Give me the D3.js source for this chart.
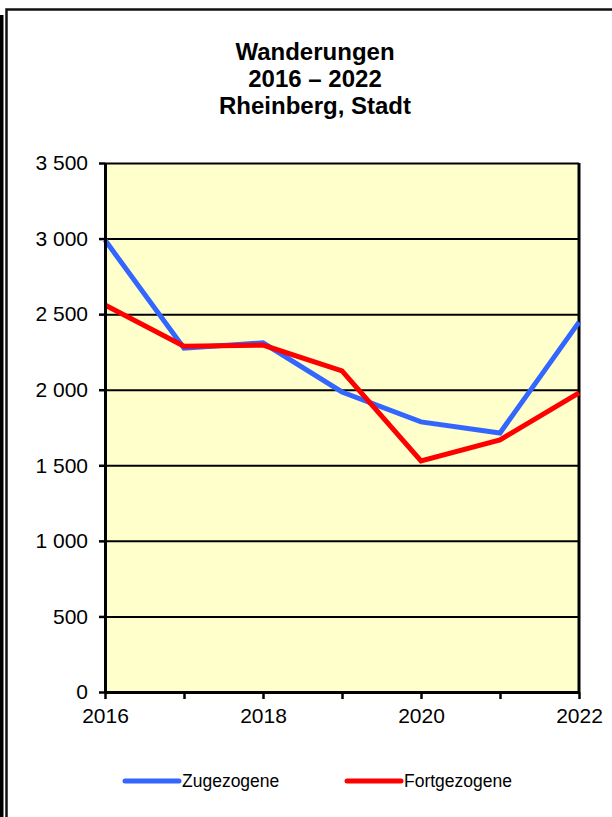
<!DOCTYPE html>
<html>
<head>
<meta charset="utf-8">
<script src="https://cdn.jsdelivr.net/npm/d3@7"></script>
<style>
	body { margin: 0; background: #ffffff; }
	svg { display: block; font-family: Arial, "Liberation Sans", sans-serif; }
	.grid line { stroke: #000000; stroke-width: 2; }
	.grid .domain { display: none; }
	.yaxis text, .xaxis text { font-size: 21px; fill: #000000; }
	.yaxis line, .xaxis line { stroke: #000000; stroke-width: 2.5; }
	.yaxis .domain, .xaxis .domain { stroke: #000000; stroke-width: 3; }
	.series { fill: none; stroke-width: 5; stroke-linejoin: miter; }
	.legend text { font-size: 17.5px; fill: #000000; }
</style>
</head>
<body>
<svg id="chart" width="612" height="817"></svg>
<script>

const years = [2016, 2017, 2018, 2019, 2020, 2021, 2022]

const zugezogene = [2990, 2275, 2310, 1985, 1787, 1714, 2447]

const fortgezogene = [2560, 2288, 2295, 2124, 1529, 1668, 1979]

const yTicks = [0, 500, 1000, 1500, 2000, 2500, 3000, 3500]

const xTickLabels = [2016, 2018, 2020, 2022]

const titleLines = ['Wanderungen', '2016 – 2022', 'Rheinberg, Stadt']

const seriesNames = ['Zugezogene', 'Fortgezogene']
const seriesColors = ['#3366ff', '#ff0000']

let svg = d3.select('#chart')

let width = 612
let height = 817

let plotLeft = 105, plotRight = 579, plotTop = 163, plotBottom = 692

let de = d3.formatLocale({ decimal: ',', thousands: ' ', grouping: [3], currency: ['', ' €'] })
let fmt = de.format(',d')

let xScale = d3.scaleLinear()
.domain(d3.extent(years))
.range([plotLeft, plotRight])

let yScale = d3.scaleLinear()
.domain([0, 3500])
.range([plotBottom, plotTop])

// outer frame
svg.append('rect')
.attr('x', 0)
.attr('y', 15)
.attr('width', 3.5)
.attr('height', height - 15)
.attr('fill', '#000000')

svg.append('path')
.attr('d', 'M6.5,' + height + 'V9.5H' + width)
.attr('fill', 'none')
.attr('stroke', '#111111')
.attr('stroke-width', 2.5)

// title
svg.append('g')
.selectAll('text')
.data(titleLines)
.join('text')
.attr('x', 315)
.attr('y', (d, i) => 60 + i * 27)
.attr('text-anchor', 'middle')
.style('font-size', '24px')
.style('font-weight', 'bold')
.text(d => d)

// plot background
svg.append('rect')
.attr('x', plotLeft)
.attr('y', plotTop)
.attr('width', plotRight - plotLeft)
.attr('height', plotBottom - plotTop)
.attr('fill', '#ffffcc')

// gridlines
svg.append('g')
.attr('class', 'grid')
.attr('transform', 'translate(' + plotLeft + ',0)')
.call(
	d3.axisLeft(yScale)
	.tickValues(yTicks)
	.tickSizeInner(-(plotRight - plotLeft))
	.tickSizeOuter(0)
	.tickFormat('')
	)

// right border
svg.append('line')
.attr('x1', plotRight)
.attr('x2', plotRight)
.attr('y1', plotTop)
.attr('y2', plotBottom)
.attr('stroke', '#000000')
.attr('stroke-width', 3)

let line = d3.line()
.x((d, i) => xScale(years[i]))
.y(d => yScale(d))

let g = svg.append('g')

;[zugezogene, fortgezogene].map((s, i) => {
	g.append('path')
	.attr('class', 'series')
	.attr('stroke', seriesColors[i])
	.attr('d', line(s))
})

// axes
svg.append('g')
.attr('class', 'yaxis')
.attr('transform', 'translate(' + plotLeft + ',0)')
.call(
	d3.axisLeft(yScale)
	.tickValues(yTicks)
	.tickSizeInner(6)
	.tickSizeOuter(0)
	.tickPadding(11)
	.tickFormat(fmt)
	)

svg.append('g')
.attr('class', 'xaxis')
.attr('transform', 'translate(0,' + plotBottom + ')')
.call(
	d3.axisBottom(xScale)
	.tickValues(years)
	.tickSizeInner(7)
	.tickSizeOuter(0)
	.tickPadding(9)
	.tickFormat(d => xTickLabels.includes(d) ? d : '')
	)

// legend
let legendX = [125, 347]

let legend = svg.append('g')
.attr('class', 'legend')

seriesNames.map((name, i) => {

	legend.append('line')
	.attr('x1', legendX[i])
	.attr('x2', legendX[i] + 54)
	.attr('y1', 781)
	.attr('y2', 781)
	.attr('stroke', seriesColors[i])
	.attr('stroke-width', 5)
	.attr('stroke-linecap', 'round')

	legend.append('text')
	.attr('x', legendX[i] + 57)
	.attr('y', 787)
	.text(name)
})

</script>
</body>
</html>
